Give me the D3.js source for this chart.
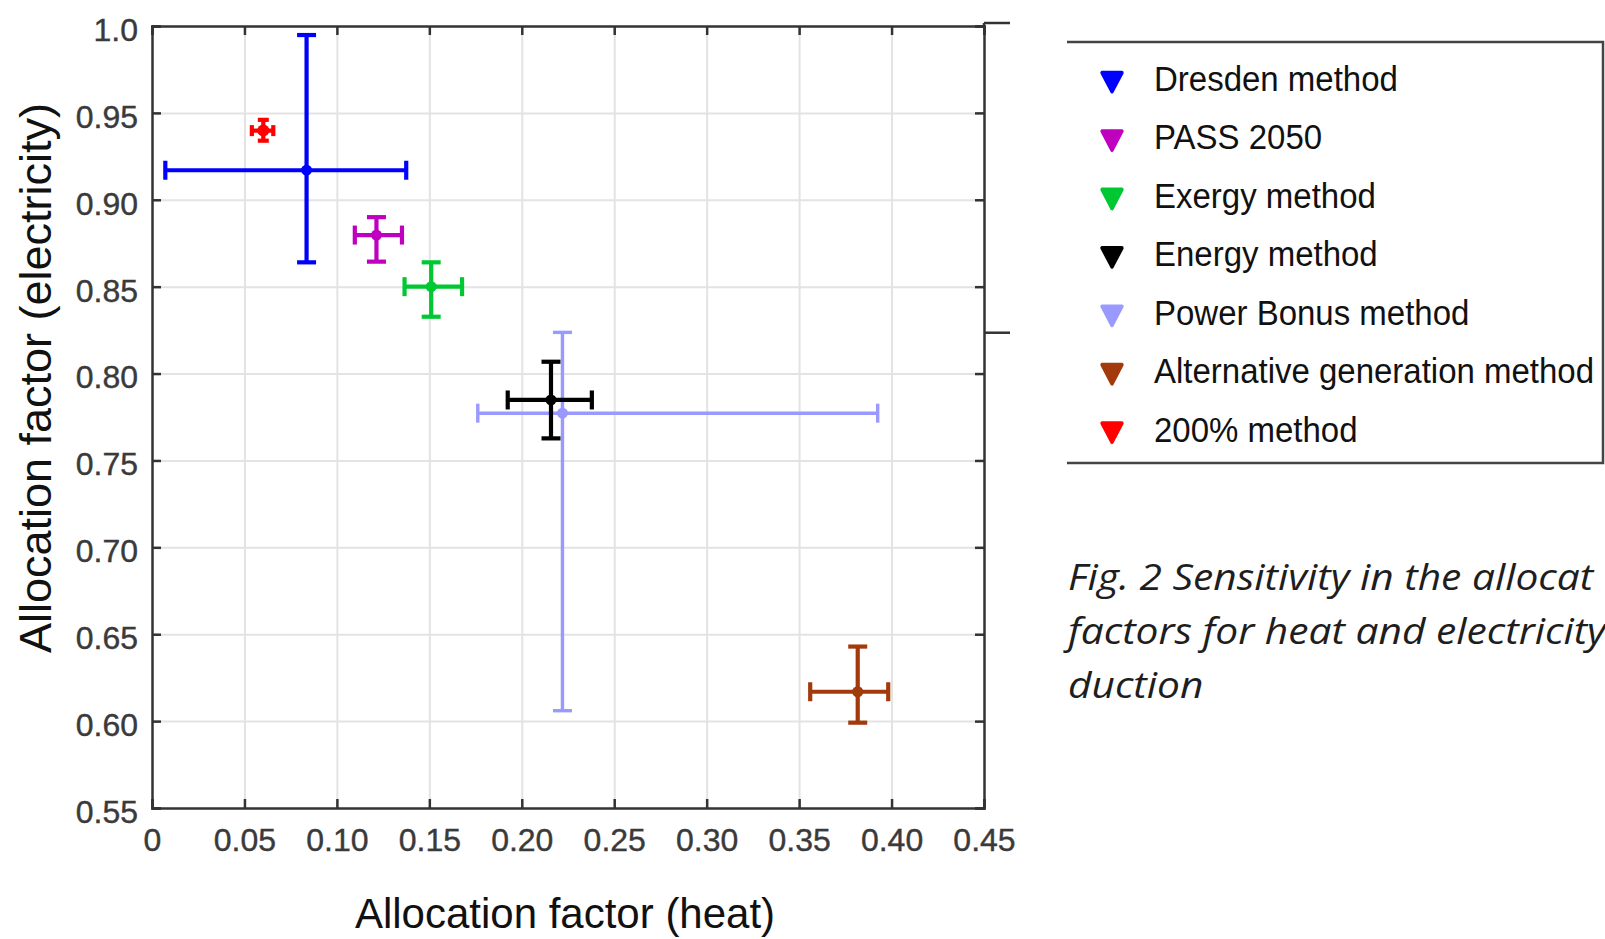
<!DOCTYPE html>
<html>
<head>
<meta charset="utf-8">
<script src="https://cdn.jsdelivr.net/npm/d3@7"></script>
<style>
  body { margin: 0; background: #fff; }
  svg { display: block; overflow: hidden; }
</style>
</head>
<body>
<div id="chart"></div>
<script>
// Data
const methods = ["Dresden method", "PASS 2050", "Exergy method", "Energy method",
  "Power Bonus method", "Alternative generation method", "200% method"];
const colors = ["#0000ff", "#bf00bf", "#00c832", "#000000", "#9999ff", "#a23a0c", "#ff0000"];
const heat = [0.0836, 0.1214, 0.151, 0.2158, 0.222, 0.3817, 0.0602];
const heatLow = [0.0072, 0.1097, 0.1366, 0.1924, 0.1762, 0.356, 0.054];
const heatHigh = [0.1375, 0.1352, 0.1677, 0.2379, 0.3925, 0.3982, 0.0656];
const elec = [0.917, 0.8797, 0.85, 0.7848, 0.7772, 0.6169, 0.9398];
const elecLow = [0.864, 0.8644, 0.8327, 0.7627, 0.606, 0.5991, 0.934];
const elecHigh = [0.9948, 0.890, 0.864, 0.8068, 0.8237, 0.6429, 0.946];

const xTicks = [0, 0.05, 0.10, 0.15, 0.20, 0.25, 0.30, 0.35, 0.40, 0.45];
const xTickLabels = ["0", "0.05", "0.10", "0.15", "0.20", "0.25", "0.30", "0.35", "0.40", "0.45"];
const yTicks = [0.55, 0.60, 0.65, 0.70, 0.75, 0.80, 0.85, 0.90, 0.95, 1.0];
const yTickLabels = ["0.55", "0.60", "0.65", "0.70", "0.75", "0.80", "0.85", "0.90", "0.95", "1.0"];

// caption as far as it is visible in the figure (cut by the page edge)
const captionLines = ["Fig. 2 Sensitivity in the allocat",
  "factors for heat and electricity", "duction"];

// draw order: light blue first so black sits on top like the original
const order = [4, 0, 1, 2, 3, 5, 6];

const W = 1605, H = 939;
const margin = { top: 26, right: 621, bottom: 131, left: 152 };
const width = W - margin.left - margin.right,
  height = H - margin.top - margin.bottom;

const svg = d3.select("#chart").append("svg")
  .attr("width", W).attr("height", H);
svg.append("rect").attr("width", W).attr("height", H).attr("fill", "#fff");

const g = svg.append("g")
  .attr("transform", "translate(" + margin.left + "," + margin.top + ")");

const x = d3.scaleLinear().domain([0, 0.45]).range([0, width]);
const y = d3.scaleLinear().domain([0.55, 1.0]).range([height, 0]);

// grid
g.append("g")
  .attr("transform", "translate(0," + height + ")")
  .call(d3.axisBottom(x).tickValues(xTicks.slice(1, -1)).tickSize(-height).tickFormat(""))
  .call(s => s.select(".domain").remove())
  .selectAll("line").attr("stroke", "#e3e3e3").attr("stroke-width", 2);
g.append("g")
  .call(d3.axisLeft(y).tickValues(yTicks.slice(1, -1)).tickSize(-width).tickFormat(""))
  .call(s => s.select(".domain").remove())
  .selectAll("line").attr("stroke", "#e3e3e3").attr("stroke-width", 2);

const axisColor = "#333";
const tickFont = "'Liberation Sans', Arial, sans-serif";

// bottom axis
const xAxis = g.append("g")
  .attr("transform", "translate(0," + height + ")")
  .call(d3.axisBottom(x).tickValues(xTicks).tickSize(-9).tickPadding(20)
    .tickFormat((d, i) => xTickLabels[i]));
xAxis.selectAll("text").attr("font-size", 32).attr("font-family", tickFont)
  .attr("fill", "#3a3a3a").attr("stroke", "#3a3a3a").attr("stroke-width", 0.4)
  .attr("dy", "0.71em");

// left axis
const yAxis = g.append("g")
  .call(d3.axisLeft(y).tickValues(yTicks).tickSize(-9).tickPadding(14)
    .tickFormat((d, i) => yTickLabels[i]));
yAxis.selectAll("text").attr("font-size", 32).attr("font-family", tickFont)
  .attr("fill", "#3a3a3a").attr("stroke", "#3a3a3a").attr("stroke-width", 0.4)
  .attr("dy", "0.45em");

// top + right axes (ticks only)
g.append("g")
  .call(d3.axisTop(x).tickValues(xTicks).tickSize(-9).tickFormat(""));
g.append("g")
  .attr("transform", "translate(" + width + ",0)")
  .call(d3.axisRight(y).tickValues(yTicks).tickSize(-9).tickFormat(""));

g.selectAll(".domain").attr("stroke", axisColor).attr("stroke-width", 2.5);
g.selectAll(".tick line").filter(function () { return +d3.select(this).attr("stroke-width") !== 2; })
  .attr("stroke", axisColor).attr("stroke-width", 2.5);

// bracket stubs to the right of the box
const br = g.append("g").attr("stroke", axisColor).attr("stroke-width", 2.5);
br.append("line").attr("x1", width).attr("x2", width).attr("y1", y(1.0) - 3).attr("y2", y(1.0));
br.append("line").attr("x1", width).attr("x2", width + 26).attr("y1", y(1.0) - 3).attr("y2", y(1.0) - 3);
br.append("line").attr("x1", width).attr("x2", width + 26).attr("y1", y(0.8235)).attr("y2", y(0.8235));

// error bars
const cap = 9.5;
const capOf = i => i === 6 ? 5.5 : cap;
const bars = g.append("g").selectAll("g").data(order).join("g")
  .attr("stroke", i => colors[i])
  .attr("fill", i => colors[i])
  .attr("stroke-width", i => i === 4 ? 3.4 : 4.2);

bars.append("line")
  .attr("x1", i => x(heatLow[i])).attr("x2", i => x(heatHigh[i]))
  .attr("y1", i => y(elec[i])).attr("y2", i => y(elec[i]));
bars.append("line")
  .attr("x1", i => x(heat[i])).attr("x2", i => x(heat[i]))
  .attr("y1", i => y(elecLow[i])).attr("y2", i => y(elecHigh[i]));
bars.append("line")
  .attr("x1", i => x(heatLow[i])).attr("x2", i => x(heatLow[i]))
  .attr("y1", i => y(elec[i]) - capOf(i)).attr("y2", i => y(elec[i]) + capOf(i));
bars.append("line")
  .attr("x1", i => x(heatHigh[i])).attr("x2", i => x(heatHigh[i]))
  .attr("y1", i => y(elec[i]) - capOf(i)).attr("y2", i => y(elec[i]) + capOf(i));
bars.append("line")
  .attr("x1", i => x(heat[i]) - capOf(i)).attr("x2", i => x(heat[i]) + capOf(i))
  .attr("y1", i => y(elecLow[i])).attr("y2", i => y(elecLow[i]));
bars.append("line")
  .attr("x1", i => x(heat[i]) - capOf(i)).attr("x2", i => x(heat[i]) + capOf(i))
  .attr("y1", i => y(elecHigh[i])).attr("y2", i => y(elecHigh[i]));
bars.append("circle")
  .attr("cx", i => x(heat[i])).attr("cy", i => y(elec[i]))
  .attr("r", i => i === 6 ? 6 : 5.5).attr("stroke", "none");

// axis titles
const labelFont = "'Liberation Sans', Arial, sans-serif";
svg.append("text")
  .attr("x", margin.left + width / 2 - 3).attr("y", 928)
  .attr("text-anchor", "middle")
  .attr("font-family", labelFont).attr("font-size", 42).attr("fill", "#111")
  .text("Allocation factor (heat)");
svg.append("text")
  .attr("transform", "translate(51," + 378 + ") rotate(-90)")
  .attr("text-anchor", "middle")
  .attr("font-family", labelFont).attr("font-size", 45).attr("fill", "#111")
  .text("Allocation factor (electricity)");

// legend
const lg = svg.append("g");
lg.append("path")
  .attr("d", "M1067,42H1603V463H1067")
  .attr("fill", "none").attr("stroke", "#444").attr("stroke-width", 2.5);
const rowY = d3.scalePoint().domain(d3.range(methods.length)).range([79, 429.5]);
const tri = d3.symbol().type(d3.symbolTriangle).size(170);
const rows = lg.selectAll("g.row").data(d3.range(methods.length)).join("g")
  .attr("class", "row")
  .attr("transform", i => "translate(0," + rowY(i) + ")");
rows.append("path")
  .attr("d", tri)
  .attr("transform", "translate(1112,0) rotate(180) scale(1,1.1)")
  .attr("fill", i => colors[i]).attr("stroke", i => colors[i])
  .attr("stroke-width", 3.5).attr("stroke-linejoin", "round");
rows.append("text")
  .attr("transform", "translate(1154,12) scale(1,1.08)")
  .attr("font-family", labelFont).attr("font-size", 33).attr("fill", "#111")
  .text(i => methods[i]);

// caption
svg.append("g").selectAll("text").data(captionLines).join("text")
  .attr("transform", (d, i) => "translate(1068," + (590 + i * 54) + ") scale(1.1,1)")
  .attr("font-family", "'Open Sans', sans-serif").attr("font-style", "italic")
  .attr("font-size", 37).attr("fill", "#1e1e1e")
  .text(d => d);
</script>
</body>
</html>
